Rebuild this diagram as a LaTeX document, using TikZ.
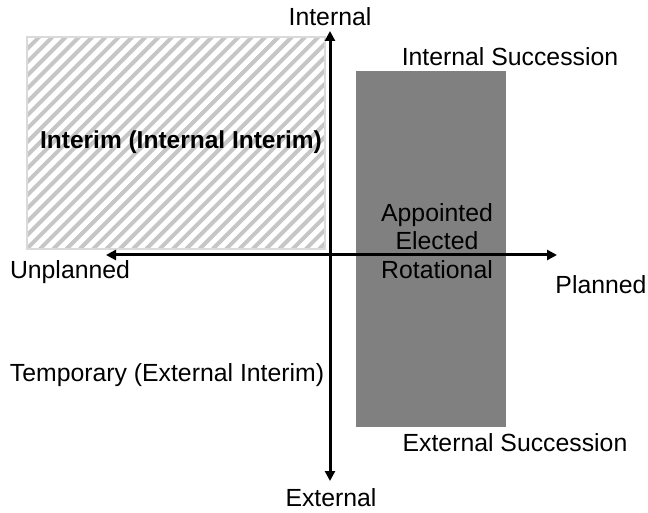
\documentclass[tikz,border=0pt]{standalone}
\usepackage{fontspec}
\setmainfont{Liberation Sans}
\usetikzlibrary{arrows.meta}
\begin{document}
\begin{tikzpicture}[x=1pt,y=-1pt,
  lbl/.style={font=\fontsize{24.8}{28}\selectfont, inner sep=0pt},
  axis/.style={line width=3pt, -{Triangle[length=10pt,width=10pt]}},
  stripe/.style={line width=4pt, draw={rgb,255:red,198;green,198;blue,198}}]
\useasboundingbox (0,0) rectangle (648,513);
% hatched rectangle
\begin{scope}
  \clip (27,37) rectangle (325,249);
  \foreach \i in {-20,...,40} {
    \draw[stripe] (\i*13.3,249) -- ++(260,-260);
  }
\end{scope}
\draw[line width=2pt, draw={rgb,255:red,218;green,218;blue,218}] (27,37) rectangle (325,249);
\node[lbl, font=\fontsize{24.5}{28}\selectfont\bfseries] (interim) at (181,142) {Interim (Internal Interim)};
% gray rectangle
\fill[fill={rgb,255:red,128;green,128;blue,128}] (356,71) rectangle (506,427);
\node[lbl, align=center, font=\fontsize{24.8}{28.5}\selectfont] (app) at (437,241) {Appointed\\Elected\\Rotational};
% axes
\coordinate (top) at (330,31);
\coordinate (bot) at (330,481);
\coordinate (left) at (106,255);
\coordinate (right) at (557,255);
\draw[axis] (330,255) -- (top);
\draw[axis] (330,255) -- (bot);
\draw[axis] (330,255) -- (left);
\draw[axis] (330,255) -- (right);
% labels
\node[lbl] (internal) at (330,17) {Internal};
\node[lbl] (external) at (331,498) {External};
\node[lbl] (unplanned) at (70,272) {Unplanned};
\node[lbl] (planned) at (601,285) {Planned};
\node[lbl] (isucc) at (510,57) {Internal Succession};
\node[lbl] (esucc) at (515,443) {External Succession};
\node[lbl] (temp) at (167,375) {Temporary (External Interim)};
\end{tikzpicture}
\end{document}
